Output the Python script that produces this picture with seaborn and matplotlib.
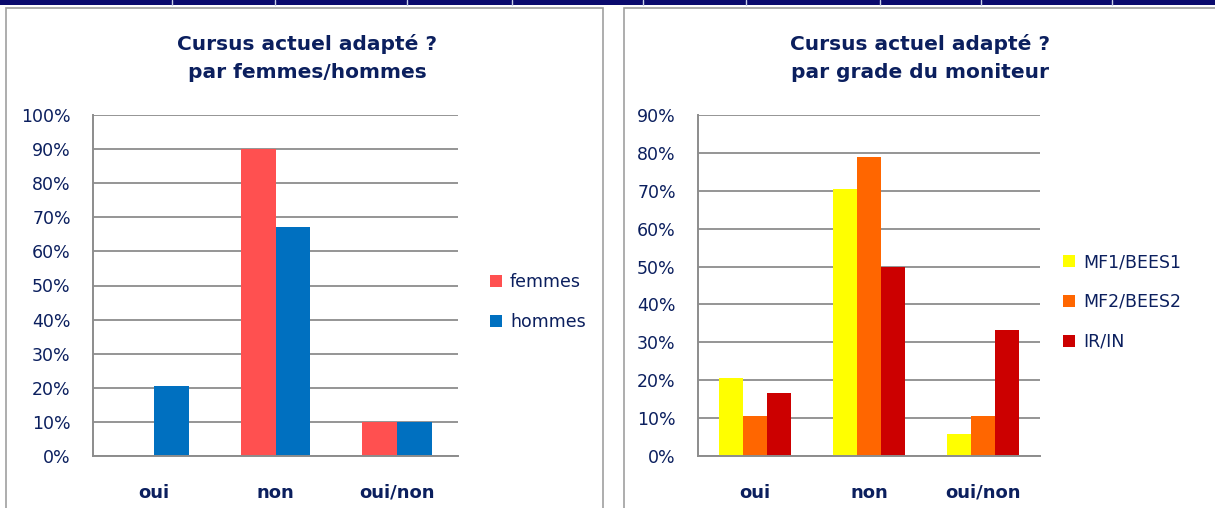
import pandas as pd
import matplotlib.pyplot as plt
import seaborn as sns
from matplotlib.patches import Rectangle
from matplotlib.lines import Line2D

# Data
categories = ['oui', 'non', 'oui/non']

sexe_series = ['femmes', 'hommes']
femmes = [0.0, 0.90, 0.10]
hommes = [0.205, 0.673, 0.10]

grade_series = ['MF1/BEES1', 'MF2/BEES2', 'IR/IN']
mf1 = [0.206, 0.706, 0.059]
mf2 = [0.105, 0.789, 0.105]
irin = [0.167, 0.50, 0.333]

title_left = 'Cursus actuel adapté ?\npar femmes/hommes'
title_right = 'Cursus actuel adapté ?\npar grade du moniteur'

sexe_colors = {'femmes': '#FF5050', 'hommes': '#0070C0'}
grade_colors = {'MF1/BEES1': '#FFFF00', 'MF2/BEES2': '#FF6600', 'IR/IN': '#CC0000'}

navy = '#0B1F5E'
grey = '#8C8C8C'

sns.set_style('white')
plt.rcParams['font.family'] = ['DejaVu Sans']

W, H = 1215, 508
fig = plt.figure(figsize=(W / 100, H / 100), dpi=100)


def fx(px):
    return px / W


def fy(py):
    return 1 - py / H


# top strip and panel frames
fig.patches.append(Rectangle((0, fy(5)), 1, 5 / H, transform=fig.transFigure,
                             facecolor='#0A0A6E', edgecolor='none'))
for x in [172, 275, 407, 512, 643, 746, 880, 981, 1112]:
    fig.lines.append(Line2D([fx(x), fx(x)], [fy(5), 1], transform=fig.transFigure,
                            color='#C8D0E8', lw=1))
for x0, x1 in [(6, 603), (624, 1216)]:
    fig.patches.append(Rectangle((fx(x0), fy(H + 5)), fx(x1 - x0), (H + 5 - 8) / H,
                                 transform=fig.transFigure, facecolor='none',
                                 edgecolor='#A0A0A0', lw=1.2))


def long_df(series, values):
    rows = []
    for name, vals in zip(series, values):
        for cat, v in zip(categories, vals):
            rows.append({'cat': cat, 'serie': name, 'val': v})
    return pd.DataFrame(rows)


def draw(ax, df, series, colors, width, ymax, legend_x, title, title_x):
    sns.barplot(data=df, x='cat', y='val', hue='serie', order=categories,
                hue_order=series, palette=colors, width=width, ax=ax,
                edgecolor='none', saturation=1)
    ax.set_ylim(0, ymax)
    ticks = [i / 10 for i in range(int(round(ymax * 10)) + 1)]
    ax.set_yticks(ticks)
    ax.set_yticklabels([f'{t:.0%}' for t in ticks])
    ax.yaxis.grid(True, color=grey, lw=1.3)
    ax.set_axisbelow(True)
    ax.set_xlabel('')
    ax.set_ylabel('')
    for s in ['top', 'right']:
        ax.spines[s].set_visible(False)
    for s in ['left', 'bottom']:
        ax.spines[s].set_color(grey)
        ax.spines[s].set_linewidth(1.4)
    ax.tick_params(axis='y', length=0, pad=16, labelsize=12.5, labelcolor=navy)
    ax.tick_params(axis='x', length=0, pad=20, labelsize=13, labelcolor=navy)
    for lab in ax.get_xticklabels():
        lab.set_fontweight('bold')
    handles, labels = ax.get_legend_handles_labels()
    ax.legend(handles, labels, loc='center left',
              bbox_to_anchor=(fx(legend_x), fy(302)), bbox_transform=fig.transFigure,
              frameon=False, fontsize=12.5, labelcolor=navy, handlelength=0.7,
              handleheight=0.7, handletextpad=0.45, labelspacing=1.25,
              borderpad=0, borderaxespad=0)
    fig.text(fx(title_x), fy(58), title, ha='center', va='center', fontsize=14.5,
             fontweight='bold', color=navy, linespacing=1.6)


ax1 = fig.add_axes([fx(93), fy(456), fx(458 - 93), (456 - 115) / H])
draw(ax1, long_df(sexe_series, [femmes, hommes]), sexe_series, sexe_colors,
     0.575, 1.0, 490, title_left, 307)

ax2 = fig.add_axes([fx(698), fy(456), fx(1040 - 698), (456 - 115) / H])
draw(ax2, long_df(grade_series, [mf1, mf2, irin]), grade_series, grade_colors,
     0.64, 0.9, 1063, title_right, 920)

fig.savefig('out.png', dpi=100)
